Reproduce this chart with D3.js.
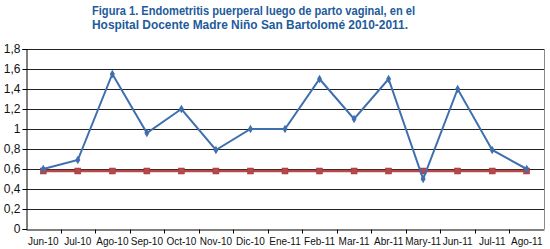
<!DOCTYPE html>
<html>
<head>
<meta charset="utf-8">
<script src="https://cdn.jsdelivr.net/npm/d3@7"></script>
<style>
  body { margin: 0; background: #fff; }
  svg { display: block; }
</style>
</head>
<body>
<div id="chart"></div>
<script>
var months = ["Jun-10", "Jul-10", "Ago-10", "Sep-10", "Oct-10", "Nov-10", "Dic-10", "Ene-11",
    "Feb-11", "Mar-11", "Abr-11", "Mary-11", "Jun-11", "Jul-11", "Ago-11"];
var tasa = [0.6, 0.69, 1.55, 0.96, 1.2, 0.79, 1.0, 1.0, 1.5, 1.1, 1.5, 0.5, 1.4, 0.79, 0.6];
var referencia = [0.58, 0.58, 0.58, 0.58, 0.58, 0.58, 0.58, 0.58, 0.58, 0.58, 0.58, 0.58, 0.58, 0.58, 0.58];
var yTicks = [0, 0.2, 0.4, 0.6, 0.8, 1, 1.2, 1.4, 1.6, 1.8];
var titleLines = ["Figura 1. Endometritis puerperal luego de parto vaginal, en el",
    "Hospital Docente Madre Niño San Bartolomé 2010-2011."];
var titleWidths = [323, 316];

var width = 550, height = 249;
var margin = {top: 49, right: 6, bottom: 20, left: 26};

var svg = d3.select("#chart").append("svg")
    .attr("width", width)
    .attr("height", height);

var x = d3.scaleBand()
    .domain(months)
    .range([margin.left, width - margin.right]);
var y = d3.scaleLinear()
    .domain([0, 1.8])
    .range([height - margin.bottom, margin.top]);

var fmt = function (d) { return String(d).replace(".", ","); };
var axisFont = "'Liberation Sans', Arial, sans-serif";

// title
svg.append("g").selectAll("text")
    .data(titleLines)
    .join("text")
    .attr("x", 92)
    .attr("y", function (d, i) { return 15 + i * 14; })
    .attr("fill", "#1d5b9c")
    .attr("textLength", function (d, i) { return titleWidths[i]; })
    .attr("lengthAdjust", "spacingAndGlyphs")
    .style("font-family", "'Liberation Sans', Arial, sans-serif")
    .style("font-weight", "bold")
    .style("font-size", "12.5px")
    .text(function (d) { return d; });

// gridlines
svg.append("g").selectAll("line")
    .data(yTicks.filter(function (d) { return d > 0; }))
    .join("line")
    .attr("x1", margin.left)
    .attr("x2", width - margin.right)
    .attr("y1", function (d) { return Math.round(y(d)) + 0.5; })
    .attr("y2", function (d) { return Math.round(y(d)) + 0.5; })
    .attr("stroke", "#222")
    .attr("stroke-width", 1);

// right border
svg.append("line")
    .attr("x1", width - margin.right + 0.5)
    .attr("x2", width - margin.right + 0.5)
    .attr("y1", y(1.8))
    .attr("y2", y(0))
    .attr("stroke", "#888");

// y axis
var yAxis = svg.append("g")
    .attr("transform", "translate(" + (margin.left + 0.5) + ",0)")
    .call(d3.axisLeft(y).tickValues(yTicks).tickFormat(fmt).tickSize(4).tickPadding(2));

// x axis
var xAxis = svg.append("g")
    .attr("transform", "translate(0," + (Math.round(y(0)) + 0.5) + ")")
    .call(d3.axisBottom(x).tickSize(0).tickPadding(8));
xAxis.selectAll(".tick line").remove();
xAxis.append("g").selectAll("line")
    .data(months.slice(1))
    .join("line")
    .attr("x1", function (d) { return Math.round(x(d)) + 0.5; })
    .attr("x2", function (d) { return Math.round(x(d)) + 0.5; })
    .attr("y1", 0)
    .attr("y2", 4)
    .attr("stroke", "#000");

[yAxis, xAxis].forEach(function (g) {
    g.select(".domain").attr("stroke", "#000");
    g.selectAll("text")
        .attr("fill", "#111")
        .style("font-family", axisFont)
        .style("font-size", "10px");
});
yAxis.selectAll("text").style("font-size", "12px");

var cx = function (d, i) { return x(months[i]) + x.bandwidth() / 2; };

// reference line (red)
svg.append("path")
    .datum(referencia)
    .attr("fill", "none")
    .attr("stroke", "#b8474a")
    .attr("stroke-width", 2.5)
    .attr("d", d3.line().x(cx).y(function (d) { return y(d); }));

svg.append("g").selectAll("rect")
    .data(referencia)
    .join("rect")
    .attr("x", function (d, i) { return cx(d, i) - 3; })
    .attr("y", function (d) { return y(d) - 3; })
    .attr("width", 6)
    .attr("height", 6)
    .attr("fill", "#b8474a")
    .attr("stroke", "#9a3a3c")
    .attr("stroke-width", 0.5);

// rate line (blue)
svg.append("path")
    .datum(tasa)
    .attr("fill", "none")
    .attr("stroke", "#3f6fae")
    .attr("stroke-width", 2)
    .attr("d", d3.line().x(cx).y(function (d) { return y(d); }));

svg.append("g").selectAll("path")
    .data(tasa)
    .join("path")
    .attr("transform", function (d, i) { return "translate(" + cx(d, i) + "," + y(d) + ")"; })
    .attr("d", d3.symbol().type(d3.symbolDiamond).size(22))
    .attr("fill", "#3f6fae");
</script>
</body>
</html>
